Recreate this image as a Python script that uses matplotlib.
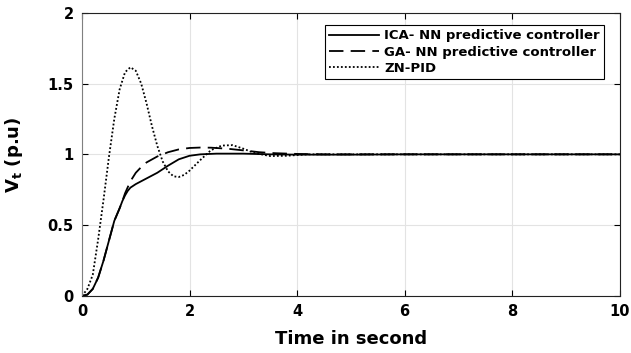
import matplotlib
matplotlib.use("Agg")
import matplotlib.pyplot as plt

# time / response data
t_ica = [0, 0.1, 0.2, 0.3, 0.4, 0.5, 0.6, 0.7, 0.75, 0.8, 0.85, 0.9, 1.0, 1.1, 1.2,
         1.4, 1.6, 1.8, 2.0, 2.2, 2.5, 3.0, 3.5, 4.0, 5, 6, 8, 10]
v_ica = [0, 0.01, 0.05, 0.13, 0.25, 0.39, 0.53, 0.62, 0.67, 0.71, 0.742, 0.765, 0.79,
         0.81, 0.83, 0.87, 0.92, 0.965, 0.99, 1.0, 1.005, 1.005, 1.0, 0.998, 0.998,
         1.0, 1.0, 1.0]

t_ga = [0, 0.1, 0.2, 0.3, 0.4, 0.5, 0.6, 0.7, 0.75, 0.8, 0.9, 1.0, 1.1, 1.2, 1.4, 1.6,
        1.8, 2.0, 2.2, 2.4, 2.7, 3.0, 3.3, 3.6, 4.0, 4.5, 5, 6, 8, 10]
v_ga = [0, 0.01, 0.05, 0.13, 0.25, 0.39, 0.53, 0.62, 0.67, 0.725, 0.81, 0.87, 0.91,
        0.943, 0.985, 1.015, 1.035, 1.045, 1.048, 1.047, 1.04, 1.028, 1.015, 1.008,
        1.003, 1.0, 1.0, 1.0, 1.0, 1.0]

t_pid = [0, 0.1, 0.2, 0.3, 0.4, 0.5, 0.6, 0.7, 0.8, 0.9, 1.0, 1.1, 1.2, 1.3, 1.4, 1.5,
         1.6, 1.7, 1.8, 1.9, 2.0, 2.2, 2.4, 2.6, 2.8, 3.0, 3.2, 3.5, 3.8, 4.2, 5, 6, 8, 10]
v_pid = [0, 0.05, 0.15, 0.4, 0.68, 0.98, 1.25, 1.46, 1.58, 1.615, 1.59, 1.5, 1.36, 1.2,
         1.06, 0.95, 0.88, 0.845, 0.84, 0.855, 0.885, 0.96, 1.03, 1.062, 1.065, 1.04,
         1.01, 0.988, 0.99, 1.0, 1.0, 1.0, 1.0, 1.0]

labels = ["ICA- NN predictive controller", "GA- NN predictive controller", "ZN-PID"]
xticks = [0, 2, 4, 6, 8, 10]
yticks = [0, 0.5, 1, 1.5, 2]

plt.rcParams['font.family'] = ['DejaVu Sans']
plt.rcParams['font.weight'] = 'bold'
plt.rcParams['mathtext.fontset'] = 'custom'
plt.rcParams['mathtext.rm'] = 'DejaVu Sans:bold'
plt.rcParams['mathtext.bf'] = 'DejaVu Sans:bold'
plt.rcParams['mathtext.it'] = 'DejaVu Sans:bold'

fig = plt.figure(figsize=(6.31, 3.53), dpi=100)
ax = fig.add_axes([0.13, 0.1615, 0.852, 0.8025])

ax.plot(t_ica, v_ica, color='black', lw=1.3, ls='-', label=labels[0])
ax.plot(t_ga, v_ga, color='black', lw=1.3, ls=(0, (8, 4)), label=labels[1])
ax.plot(t_pid, v_pid, color='black', lw=1.3, ls=(0, (1, 1.2)), label=labels[2])

ax.set_xlim(0, 10)
ax.set_ylim(0, 2)
ax.set_xticks(xticks)
ax.set_yticks(yticks)
ax.set_xticklabels([str(x) for x in xticks])
ax.set_yticklabels(['0', '0.5', '1', '1.5', '2'])
ax.grid(True, color='#e3e3e3', lw=0.8)
ax.set_axisbelow(True)
ax.tick_params(direction='in', length=4, width=0.8, top=True, right=True,
               labelsize=10.5, pad=6)
for lab in ax.get_xticklabels() + ax.get_yticklabels():
    lab.set_fontweight('bold')
for s in ['top', 'bottom', 'right']:
    ax.spines[s].set_color('#222222')
ax.spines['left'].set_color('#808080')

ax.set_xlabel('Time in second', fontsize=13, fontweight='bold', labelpad=8)
ax.set_ylabel(r'$\mathbf{V_{t}}$ (p.u)', fontsize=13, fontweight='bold', labelpad=16)

leg = ax.legend(loc='upper right', bbox_to_anchor=(0.97, 0.955), fontsize=9.5,
                frameon=True, fancybox=False, edgecolor='black', framealpha=1,
                handlelength=3.8, handletextpad=0.4, labelspacing=0.25,
                borderpad=0.3, borderaxespad=0)
leg.get_frame().set_linewidth(0.8)
for txt in leg.get_texts():
    txt.set_fontweight('bold')

fig.savefig('out.png', dpi=100)
